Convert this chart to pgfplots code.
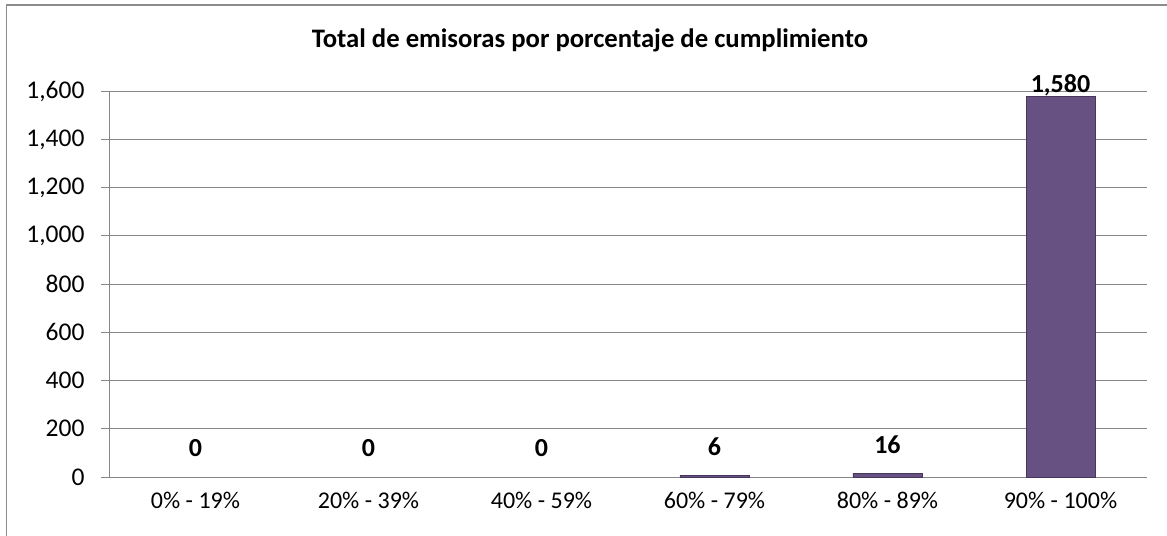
\documentclass[border=0pt]{standalone}
\usepackage{pgfplots}
\pgfplotsset{compat=1.18}
\usepackage{fontspec}
\setmainfont{Carlito}
\definecolor{barfill}{RGB}{103,80,130}
\definecolor{bardraw}{RGB}{72,55,92}
\definecolor{gridgray}{RGB}{134,134,134}
\definecolor{bordergray}{RGB}{140,140,140}
\begin{document}
\begin{tikzpicture}
\useasboundingbox (0,0) rectangle (1167bp,536bp);
\draw[bordergray, line width=1.2bp] (6.7bp,0) -- (6.7bp,531bp) -- (1167bp,531bp);
\begin{axis}[
  at={(109bp,59bp)}, anchor=south west,
  scale only axis, width=1038bp, height=385.6bp,
  xmin=-0.5, xmax=5.5, ymin=0, ymax=1600,
  ytick={0,200,...,1600},
  xtick={0,...,5},
  xticklabels={0\% - 19\%, 20\% - 39\%, 40\% - 59\%, 60\% - 79\%, 80\% - 89\%, 90\% - 100\%},
  minor xtick={-0.5,0.5,...,5.5},
  xtick style={draw=none},
  tick align=outside,
  major tick length=8bp, minor tick length=6bp,
  every tick/.style={gridgray, line width=1bp},
  minor tick style={gridgray, line width=1bp},
  axis lines*=left,
  axis line style={gridgray, line width=1bp},
  ymajorgrids, major grid style={gridgray, line width=1bp},
  xticklabel style={font=\fontsize{24bp}{28bp}\selectfont, black, yshift=-4bp},
  yticklabel style={font=\fontsize{25.5bp}{30bp}\selectfont, black, xshift=-13bp},
  /pgf/number format/assume math mode=true,
  /pgf/number format/.cd, 1000 sep={,}, /pgfplots/.cd,
  ybar, bar width=69bp, bar shift=0pt,
  nodes near coords,
  nodes near coords style={font=\bfseries\fontsize{26bp}{30bp}\selectfont, black, anchor=center,
    /pgf/number format/assume math mode=true, /pgf/number format/1000 sep={,}},
  title={\bfseries Total de emisoras por porcentaje de cumplimiento},
  title style={font=\fontsize{26.7bp}{30bp}\selectfont, at={(0.5,1)}, anchor=center, xshift=-38bp, yshift=44.7bp},
  clip=false,
]
\addplot[draw=none, fill=none, nodes near coords style={yshift=28.5bp}]
  coordinates {(0,0) (1,0) (2,0)};
\addplot[fill=barfill, draw=bardraw, line width=0.8bp, nodes near coords style={yshift=28.5bp}]
  coordinates {(3,6) (4,16)};
\addplot[fill=barfill, draw=bardraw, line width=0.8bp, nodes near coords style={yshift=11bp}]
  coordinates {(5,1580)};
\end{axis}
\end{tikzpicture}
\end{document}
